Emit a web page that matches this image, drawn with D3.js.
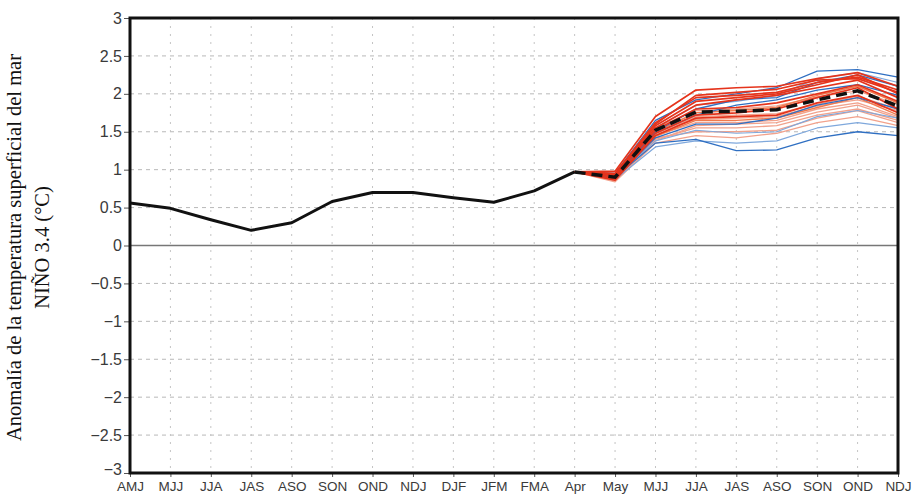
<!DOCTYPE html>
<html>
<head>
<meta charset="utf-8">
<script src="https://cdn.jsdelivr.net/npm/d3@7"></script>
<style>
  body { margin: 0; background: #fff; }
  svg { display: block; }
</style>
</head>
<body>
<div id="chart"></div>
<script>
const width = 912;
const height = 495;

const margin = { top: 18, left: 130, right: 14, bottom: 22 };

// Data
const seasons = ["AMJ", "MJJ", "JJA", "JAS", "ASO", "SON", "OND", "NDJ", "DJF", "JFM",
                 "FMA", "Apr", "May", "MJJ", "JJA", "JAS", "ASO", "SON", "OND", "NDJ"];

// observed anomaly, AMJ .. Apr
const observed = [0.56, 0.49, 0.34, 0.20, 0.30, 0.58, 0.70, 0.70, 0.63, 0.57, 0.72, 0.97];

// forecast starts at Apr (index 11) and runs to NDJ (index 19)
const forecastStart = 11;
const ensembleMean = [0.97, 0.90, 1.52, 1.76, 1.77, 1.79, 1.92, 2.04, 1.84];

// ensemble members, grouped by colour
const membersPale = [
    [0.97, 0.90, 1.45, 1.62, 1.62, 1.65, 1.80, 1.88, 1.70],
    [0.97, 0.87, 1.40, 1.55, 1.55, 1.58, 1.72, 1.80, 1.65],
    [0.97, 0.92, 1.42, 1.50, 1.50, 1.52, 1.68, 1.78, 1.62],
    [0.97, 0.85, 1.38, 1.58, 1.60, 1.62, 1.76, 1.85, 1.68],
    [0.97, 0.89, 1.50, 1.66, 1.68, 1.70, 1.84, 1.92, 1.78],
    [0.97, 0.84, 1.35, 1.45, 1.42, 1.48, 1.62, 1.70, 1.58],
    [0.97, 0.93, 1.55, 1.78, 1.80, 1.84, 1.96, 2.04, 1.86],
    [0.97, 0.88, 1.47, 1.70, 1.72, 1.74, 1.86, 1.97, 1.80]
];
const membersLightBlue = [
    [0.97, 0.93, 1.55, 1.85, 1.90, 1.98, 2.20, 2.28, 2.15],
    [0.97, 0.87, 1.30, 1.38, 1.35, 1.38, 1.55, 1.62, 1.55],
    [0.97, 0.90, 1.38, 1.52, 1.48, 1.50, 1.70, 1.78, 1.68]
];
const membersBlue = [
    [0.97, 0.95, 1.65, 1.92, 2.00, 2.08, 2.30, 2.32, 2.22],
    [0.97, 0.90, 1.35, 1.40, 1.25, 1.26, 1.42, 1.50, 1.45],
    [0.97, 0.92, 1.50, 1.80, 1.92, 1.95, 2.15, 2.25, 2.10],
    [0.97, 0.89, 1.42, 1.60, 1.60, 1.68, 1.85, 1.95, 1.80],
    [0.97, 0.91, 1.48, 1.72, 1.85, 1.92, 2.05, 2.12, 1.98]
];
const membersOrange = [
    [0.97, 0.91, 1.50, 1.75, 1.78, 1.82, 1.98, 2.10, 1.88],
    [0.97, 0.88, 1.44, 1.65, 1.65, 1.68, 1.82, 1.95, 1.72]
];
const membersRed = [
    [0.97, 0.95, 1.62, 1.95, 1.98, 2.02, 2.15, 2.22, 2.05],
    [0.97, 0.92, 1.58, 1.90, 1.95, 2.00, 2.12, 2.25, 2.00],
    [0.97, 0.98, 1.70, 2.05, 2.08, 2.10, 2.20, 2.28, 2.10],
    [0.97, 0.90, 1.55, 1.85, 1.92, 1.98, 2.08, 2.18, 1.95],
    [0.97, 0.93, 1.52, 1.80, 1.82, 1.88, 2.00, 2.12, 1.90],
    [0.97, 0.88, 1.48, 1.72, 1.75, 1.80, 1.95, 2.08, 1.80],
    [0.97, 0.94, 1.60, 1.98, 2.02, 2.06, 2.18, 2.20, 2.02],
    [0.97, 0.86, 1.45, 1.68, 1.70, 1.72, 1.88, 1.98, 1.75]
];

const yTicks = [3, 2.5, 2, 1.5, 1, 0.5, 0, -0.5, -1, -1.5, -2, -2.5, -3];

const xScale = d3.scaleLinear()
    .domain([0, seasons.length - 1])
    .range([margin.left, width - margin.right]);

const yScale = d3.scaleLinear()
    .domain([-3, 3])
    .range([height - margin.bottom, margin.top]);

const svg = d3.select("#chart").append("svg")
    .attr("width", width)
    .attr("height", height);

// grid
svg.append("g")
    .selectAll("line")
    .data(yTicks.filter(d => d !== 0 && Math.abs(d) !== 3))
    .join("line")
    .attr("x1", margin.left).attr("x2", width - margin.right)
    .attr("y1", d => yScale(d)).attr("y2", d => yScale(d))
    .attr("stroke", "#b8b8b8")
    .attr("stroke-width", 1)
    .attr("stroke-dasharray", "4,4");

svg.append("g")
    .selectAll("line")
    .data(d3.range(1, seasons.length - 1))
    .join("line")
    .attr("x1", d => xScale(d)).attr("x2", d => xScale(d))
    .attr("y1", margin.top).attr("y2", height - margin.bottom)
    .attr("stroke", "#c4c4c4")
    .attr("stroke-width", 1)
    .attr("stroke-dasharray", "2,6");

// zero line
svg.append("line")
    .attr("x1", margin.left).attr("x2", width - margin.right)
    .attr("y1", yScale(0)).attr("y2", yScale(0))
    .attr("stroke", "#777")
    .attr("stroke-width", 1.3);

// axes
const yAxis = d3.axisLeft(yScale)
    .tickValues(yTicks)
    .tickSize(6)
    .tickFormat(d => String(d).replace("-", "\u2212"));

const gy = svg.append("g")
    .attr("transform", `translate(${margin.left},0)`)
    .call(yAxis);
gy.select(".domain").remove();
gy.selectAll("line").attr("stroke", "#555");
gy.selectAll("text")
    .attr("x", -8)
    .attr("font-family", "Liberation Sans, Arial, sans-serif")
    .attr("font-size", 16)
    .attr("fill", "#3a3a3a");
// lift the bottom label a bit so it clears the x labels
gy.selectAll("text").filter(d => d === -3).attr("dy", "0.1em");

const xAxis = d3.axisBottom(xScale)
    .tickValues(d3.range(seasons.length))
    .tickSize(4)
    .tickFormat(i => seasons[i]);

const gx = svg.append("g")
    .attr("transform", `translate(0,${height - margin.bottom})`)
    .call(xAxis);
gx.select(".domain").remove();
gx.selectAll("line").attr("stroke", "#555");
gx.selectAll("text")
    .attr("y", 8)
    .attr("font-family", "Liberation Sans, Arial, sans-serif")
    .attr("font-size", 13.5)
    .attr("fill", "#3a3a3a");

// lines
const lineGen = d3.line()
    .x(d => xScale(d.i))
    .y(d => yScale(d.v));

const toPts = (arr, start) => arr.map((v, k) => ({ i: start + k, v: v }));

function drawMembers(set, color, w) {
    svg.append("g")
        .selectAll("path")
        .data(set)
        .join("path")
        .attr("d", d => lineGen(toPts(d, forecastStart)))
        .attr("fill", "none")
        .attr("stroke", color)
        .attr("stroke-width", w)
        .attr("stroke-linejoin", "round");
}

drawMembers(membersPale, "#f2a28c", 1.3);
drawMembers(membersLightBlue, "#7fa8dc", 1.2);
drawMembers(membersOrange, "#f07a4e", 1.5);
drawMembers(membersBlue, "#2f6fc2", 1.3);
drawMembers(membersRed, "#e5341c", 1.7);

svg.append("path")
    .datum(toPts(observed, 0))
    .attr("d", lineGen)
    .attr("fill", "none")
    .attr("stroke", "#111")
    .attr("stroke-width", 3)
    .attr("stroke-linejoin", "round");

svg.append("path")
    .datum(toPts(ensembleMean, forecastStart))
    .attr("d", lineGen)
    .attr("fill", "none")
    .attr("stroke", "#111")
    .attr("stroke-width", 3.5)
    .attr("stroke-dasharray", "11,6");

// frame
svg.append("rect")
    .attr("x", margin.left)
    .attr("y", margin.top)
    .attr("width", width - margin.left - margin.right)
    .attr("height", height - margin.top - margin.bottom)
    .attr("fill", "none")
    .attr("stroke", "#111")
    .attr("stroke-width", 3);

// y title
const title = svg.append("text")
    .attr("transform", `translate(21,${(margin.top + height - margin.bottom) / 2 + 2}) rotate(-90)`)
    .attr("text-anchor", "middle")
    .attr("font-family", "Liberation Serif, Times New Roman, serif")
    .attr("font-size", 20.5)
    .attr("fill", "#111");
title.append("tspan").attr("x", 0).attr("dy", 0).text("Anomalía de la temperatura superficial del mar");
title.append("tspan").attr("x", 0).attr("dy", 28).text("NIÑO 3.4 (°C)");
</script>
</body>
</html>
